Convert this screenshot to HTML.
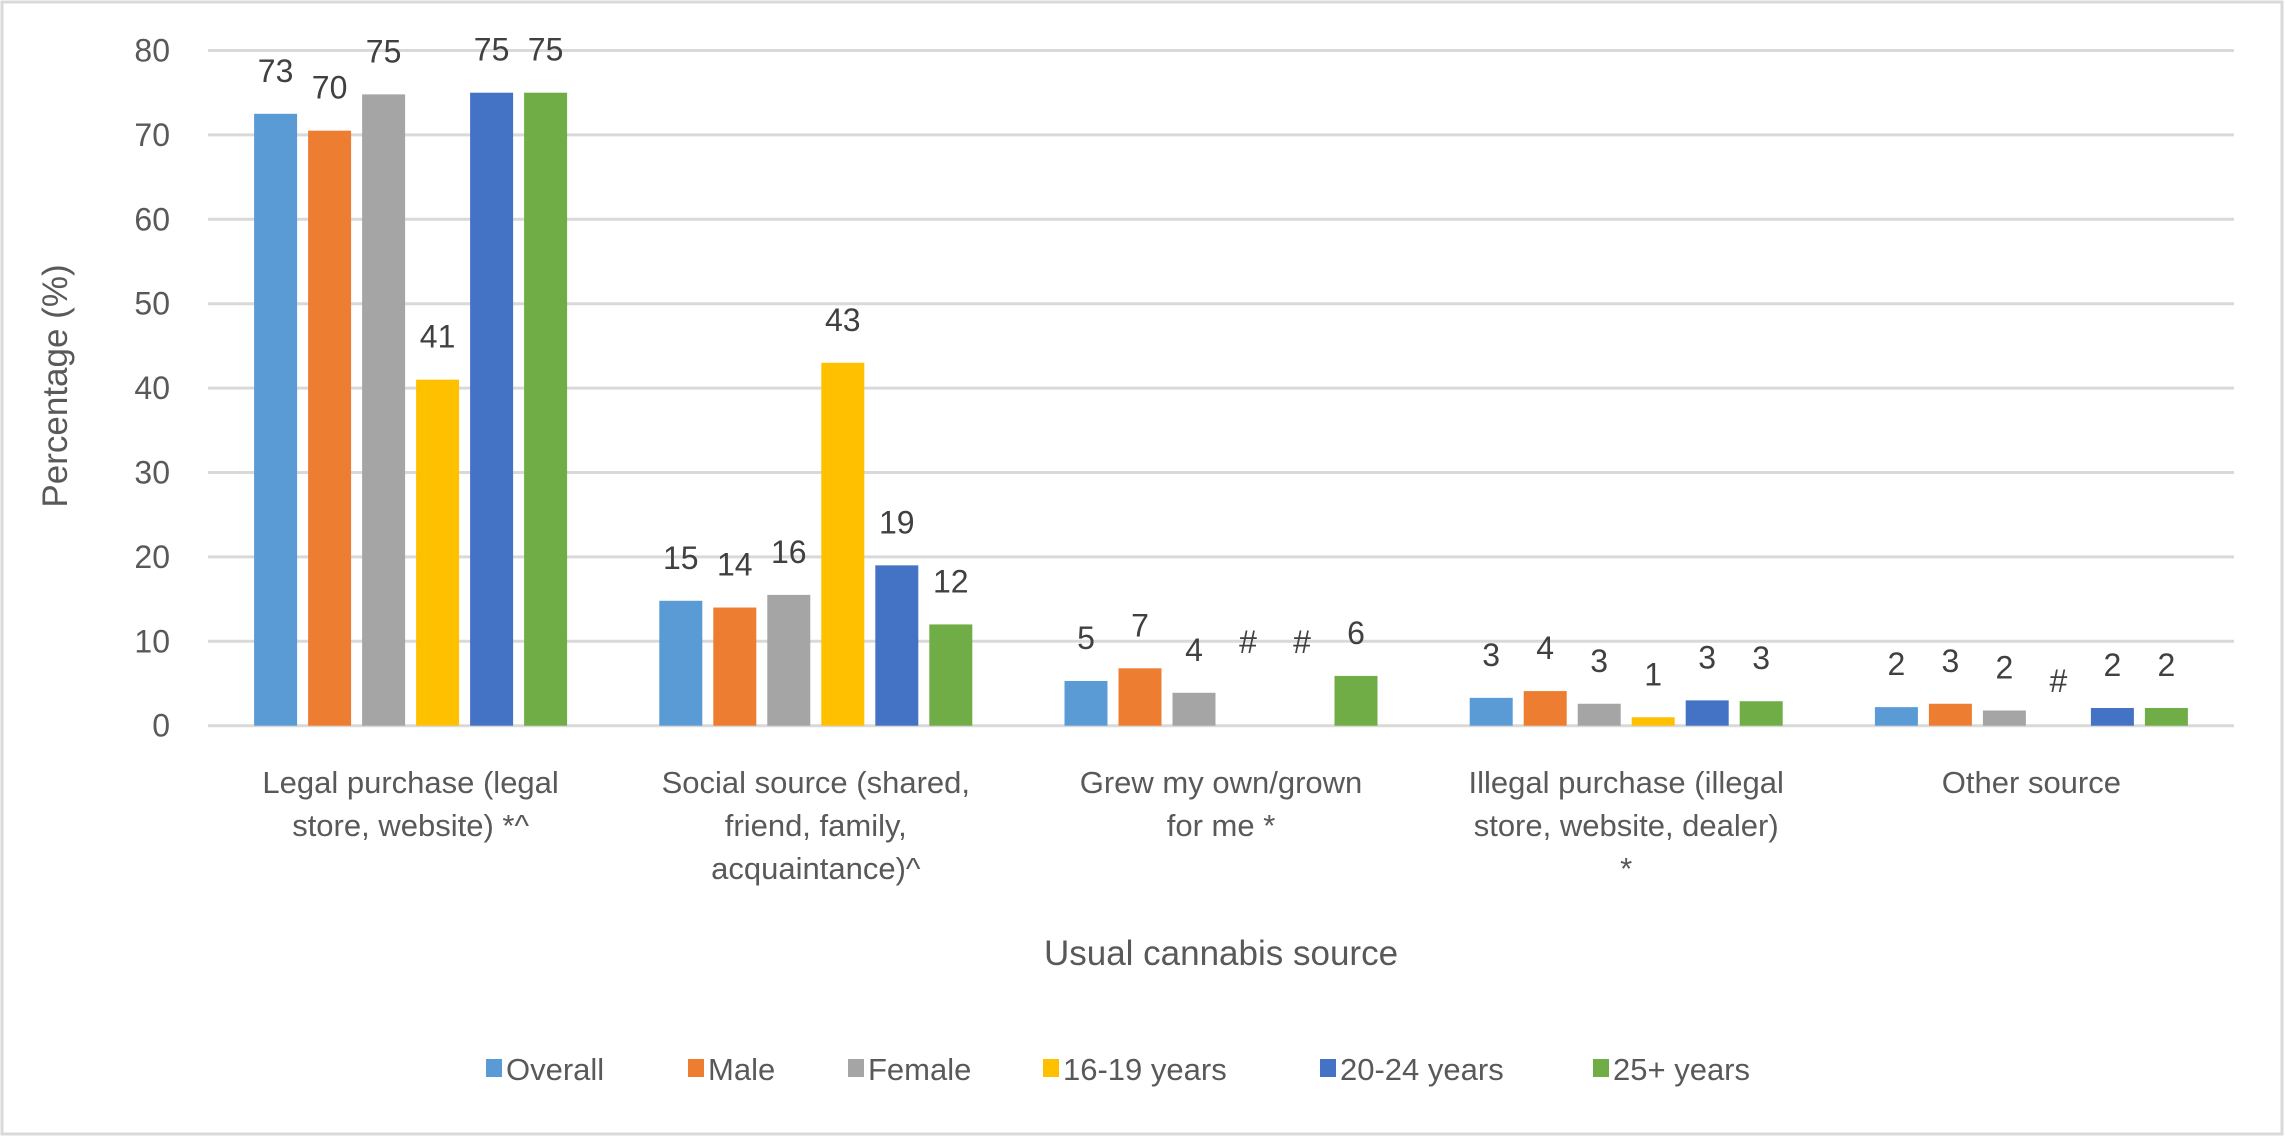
<!DOCTYPE html>
<html><head><meta charset="utf-8"><style>
html,body{margin:0;padding:0;background:#fff;}
svg{display:block;font-family:"Liberation Sans",sans-serif;}
</style></head><body>
<svg id="chart" width="2285" height="1137" viewBox="0 0 2285 1137">
<rect x="2" y="2" width="2280" height="1132" fill="#fff" stroke="#d9d9d9" stroke-width="3"/>
<g id="grid"></g><g id="bars"></g><g id="labels"></g><g id="axes"></g><g id="legend"></g>
</svg>
<script>
const categories = [["Legal purchase (legal","store, website) *^"],["Social source (shared,","friend, family,","acquaintance)^"],["Grew my own/grown","for me *"],["Illegal purchase (illegal","store, website, dealer)","*"],["Other source"]];
const seriesNames = ["Overall","Male","Female","16-19 years","20-24 years","25+ years"];
const seriesColors = ["#5b9bd5","#ed7d31","#a5a5a5","#ffc000","#4472c4","#70ad47"];
const overall = [72.5,14.8,5.3,3.3,2.2];
const male = [70.5,14,6.8,4.1,2.6];
const female = [74.8,15.5,3.9,2.6,1.8];
const teen = [41,43,0,1.0,0];
const young = [75,19,0,3.0,2.1];
const older = [75,12,5.9,2.9,2.1];
const labelsOverall = ["73","15","5","3","2"];
const labelsMale = ["70","14","7","4","3"];
const labelsFemale = ["75","16","4","3","2"];
const labelsTeen = ["41","43","#","1","#"];
const labelsYoung = ["75","19","#","3","2"];
const labelsOlder = ["75","12","6","3","2"];
const yTicks = [0,10,20,30,40,50,60,70,80];

const series=[overall,male,female,teen,young,older];
const seriesLabels=[labelsOverall,labelsMale,labelsFemale,labelsTeen,labelsYoung,labelsOlder];
const NS="http://www.w3.org/2000/svg";
const plotL=208,plotR=2234,y0=725.7,perUnit=8.44;
const yScale=v=>y0-v*perUnit;
const catW=(plotR-plotL)/categories.length;
const step=54,bw=43;
const xBar=(c,s)=>plotL+catW*(c+0.5)-(6*step-11)/2+s*step;
function mk(tag,attrs,parent){const e=document.createElementNS(NS,tag);for(const k in attrs)e.setAttribute(k,attrs[k]);parent.appendChild(e);return e;}
const grid=document.getElementById('grid'),bars=document.getElementById('bars'),labels=document.getElementById('labels'),axes=document.getElementById('axes'),legend=document.getElementById('legend');
yTicks.forEach(t=>{
 const l=mk('line',{x1:plotL,x2:plotR,y1:yScale(t),y2:yScale(t),stroke:'#d9d9d9','stroke-width':3},grid);
 
 
 const tx=mk('text',{x:170,y:yScale(t)+11,'text-anchor':'end','font-size':32,fill:'#595959'},axes);
 tx.textContent=t;
 
 
});
series.forEach((vals,s)=>{
 vals.forEach((v,c)=>{
  const x=xBar(c,s);
  if(v>0){
   const r=mk('rect',{x:x,y:yScale(v),width:bw,height:y0-yScale(v),fill:seriesColors[s]},bars);
   
   
  }
  const lab=seriesLabels[s][c];
  const anchor=lab==='#'?(c===2?4.8:0.2):v;
  const t=mk('text',{x:x+bw/2,y:yScale(anchor)-32,'text-anchor':'middle','font-size':32,fill:'#404040'},labels);
  t.textContent=lab;
  
  
 });
});
categories.forEach((lines,c)=>{
 lines.forEach((ln,i)=>{
  const t=mk('text',{x:plotL+catW*(c+0.5),y:793+i*43,'text-anchor':'middle','font-size':31,fill:'#595959'},axes);
  t.textContent=ln;
  
  
 });
});
const xt=mk('text',{x:(plotL+plotR)/2,y:965,'text-anchor':'middle','font-size':35,fill:'#595959'},axes);
xt.textContent='Usual cannabis source';


const yt=mk('text',{x:0,y:0,'text-anchor':'middle','font-size':35,fill:'#595959',transform:'translate(67,386) rotate(-90)'},axes);
yt.textContent='Percentage (%)';


const legX=[486,688,848,1043,1320,1593];
seriesNames.forEach((n,i)=>{
 const g=mk('g',{},legend);
 
 
 mk('rect',{x:legX[i],y:1059,width:16,height:18,fill:seriesColors[i]},g);
 const t=mk('text',{x:legX[i]+20,y:1080,'font-size':31,fill:'#595959'},g);
 t.textContent=n;
});
</script>
</body></html>
